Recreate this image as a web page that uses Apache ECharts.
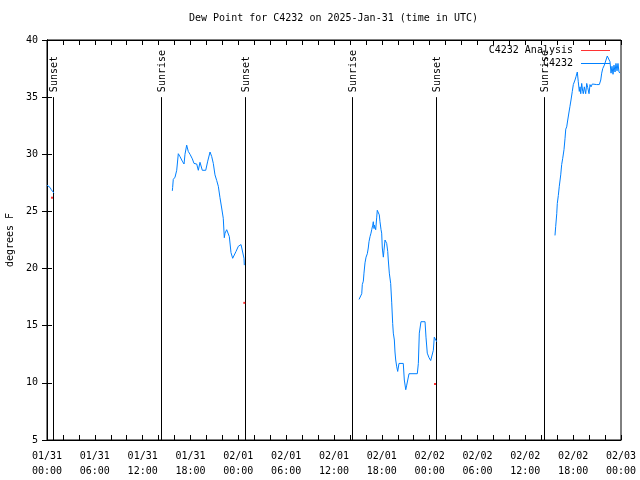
<!DOCTYPE html>
<html>
<head>
<meta charset="utf-8">
<script src="https://cdn.jsdelivr.net/npm/echarts@6/dist/echarts.min.js"></script>
<style>
html,body{margin:0;padding:0;background:#fff;}
#chart{width:640px;height:480px;}
</style>
</head>
<body>
<div id="chart"></div>
<script>
// ---- data (hours since 2025-01-31 00:00 UTC) ----
const titleText = 'Dew Point for C4232 on 2025-Jan-31 (time in UTC)';
const xTickLabels = ['01/31\n00:00','01/31\n06:00','01/31\n12:00','01/31\n18:00',
  '02/01\n00:00','02/01\n06:00','02/01\n12:00','02/01\n18:00',
  '02/02\n00:00','02/02\n06:00','02/02\n12:00','02/02\n18:00','02/03\n00:00'];
const yTicks = [5,10,15,20,25,30,35,40];

const eventNames = ['Sunset','Sunrise','Sunset','Sunrise','Sunset','Sunrise'];
const eventHours = [0.79, 14.26, 24.84, 38.26, 48.80, 62.38];

const obsHours = [
  0.00,0.21,0.38,0.54,0.71,0.88,
  1.50,
  15.72,15.76,15.84,16.06,16.27,16.47,16.68,16.97,17.19,17.31,17.52,17.72,17.94,18.23,18.44,18.78,18.98,
  19.19,19.48,19.91,20.16,20.45,20.66,20.86,21.07,21.29,21.49,21.70,21.91,22.11,22.24,22.33,22.54,22.74,
  22.87,23.08,23.29,23.50,23.71,24.00,24.34,24.55,24.71,24.75,
  30.00,
  39.14,39.39,39.48,39.55,39.68,39.76,39.89,40.02,40.18,40.30,40.39,40.52,40.64,40.73,40.86,40.93,41.02,
  41.06,41.14,41.23,41.36,41.43,41.56,41.68,41.77,41.90,41.98,42.06,42.19,42.27,42.40,42.52,42.61,42.74,
  42.81,42.94,43.11,43.24,43.36,43.44,43.57,43.65,43.74,43.87,43.99,44.15,44.69,44.82,45.00,45.12,45.25,
  45.41,46.45,46.58,46.70,46.91,47.42,47.54,47.70,47.92,48.13,48.26,48.38,48.46,48.58,48.71,48.88,
  55.00,
  63.72,63.81,63.94,64.01,64.14,64.26,64.44,64.56,64.69,64.85,64.98,65.07,65.19,65.32,65.48,65.60,65.73,
  65.89,66.02,66.23,66.36,66.52,66.64,66.77,66.86,66.95,67.07,67.20,67.27,67.40,67.57,67.70,67.82,67.99,
  68.11,68.24,68.40,68.65,68.95,69.28,69.46,69.58,69.71,69.91,70.12,70.28,70.50,70.62,70.75,70.87,71.00,
  71.12,71.25,71.37,71.50,71.62,71.75,71.87
];
const obsDewF = [
  27.3,27.3,27.1,26.9,26.75,26.6,
  null,
  26.8,27.1,27.8,28.0,28.6,30.05,29.8,29.4,29.15,30.0,30.8,30.25,30.0,29.6,29.2,29.15,28.6,
  29.3,28.6,28.6,29.4,30.2,29.8,29.2,28.2,27.7,27.2,26.2,25.3,24.4,22.7,23.1,23.4,23.4,
  22.8,21.4,20.9,20.9,21.5,21.95,22.1,22.1,20.9,20.3,
  null,
  17.3,17.3,17.8,18.6,18.9,19.6,20.5,21.0,21.3,21.8,22.35,22.8,23.1,23.4,23.8,24.1,23.5,
  23.8,23.7,23.4,24.5,25.1,24.95,24.7,24.1,23.4,23.1,21.8,21.0,21.6,22.5,22.35,22.2,21.5,
  20.75,19.6,18.7,17.0,15.2,14.35,13.75,12.7,12.0,11.4,11.0,11.7,11.7,10.25,9.4,9.8,10.25,
  10.8,10.8,11.7,14.35,15.35,15.35,14.0,12.6,12.2,11.95,11.85,12.1,12.85,14.0,13.9,13.6,
  null,
  22.9,23.7,24.8,25.7,26.4,27.2,28.2,29.1,29.65,30.4,31.4,32.2,32.4,33.0,33.7,34.2,34.75,
  35.5,36.1,36.5,36.8,37.2,36.35,35.5,35.9,35.3,36.2,35.5,35.3,35.9,35.3,36.2,35.85,35.3,
  36.1,35.9,36.15,36.0,36.1,36.1,36.5,37.1,37.5,37.8,37.95,38.6,38.6,38.1,37.1,37.7,37.0,
  37.8,37.2,37.95,37.3,37.95,37.2,37.1
];
const analysisHours = [0.63, 24.75, 48.67];
const analysisDewF = [26.2, 17.0, 9.9];

// ---- chart ----
const FONT = '"DejaVu Sans Mono", "Liberation Mono", monospace';
const chart = echarts.init(document.getElementById('chart'), null, {renderer: 'canvas'});

const obsData = obsHours.map((h, i) => [h, obsDewF[i] === null ? '-' : obsDewF[i]]);
const anaData = analysisHours.map((h, i) => [h, analysisDewF[i]]);
const evData = eventHours.map((h, i) => [h, 5, i]);

const xCommon = {
  type: 'value', min: 0, max: 72, interval: 6,
  axisLine: {show: true, lineStyle: {color: '#000', width: 1}},
  axisTick: {show: true, inside: true, length: 5, lineStyle: {color: '#000'}},
  minorTick: {show: true, splitNumber: 3, length: 5, lineStyle: {color: '#000'}},
  splitLine: {show: false}, minorSplitLine: {show: false}
};
const yCommon = {
  type: 'value', min: 5, max: 40, interval: 5,
  axisLine: {show: true, lineStyle: {color: '#000', width: 1}},
  axisTick: {show: true, inside: true, length: 5, lineStyle: {color: '#000'}},
  splitLine: {show: false}
};

chart.setOption({
  animation: false,
  backgroundColor: '#fff',
  title: {
    text: titleText, left: 189, top: 13, padding: 0,
    textStyle: {fontFamily: FONT, fontSize: 10, fontWeight: 'normal', color: '#000'}
  },
  legend: {
    orient: 'vertical', align: 'right', right: 30, top: 45, padding: 0,
    itemGap: 2, itemWidth: 29, itemHeight: 1,
    data: [{name: 'C4232 Analysis', icon: 'rect'}, {name: 'C4232', icon: 'rect'}],
    textStyle: {fontFamily: FONT, fontSize: 10, color: '#000', padding: [0, 3, 0, 0], lineHeight: 11},
    selectedMode: false
  },
  grid: {left: 47, right: 19, top: 40, bottom: 40, show: true, borderColor: '#000', borderWidth: 1,
         containLabel: false, outerBoundsMode: 'none'},
  xAxis: [
    Object.assign({}, xCommon, {
      position: 'bottom',
      axisLabel: {
        show: true, margin: 9, color: '#000', fontFamily: FONT, fontSize: 10, lineHeight: 15,
        formatter: v => xTickLabels[Math.round(v / 6)]
      }
    }),
    Object.assign({}, xCommon, {position: 'top', axisLabel: {show: false}})
  ],
  yAxis: [
    Object.assign({}, yCommon, {
      position: 'left',
      name: 'degrees F', nameLocation: 'middle', nameGap: 32, nameRotate: 90,
      nameTextStyle: {fontFamily: FONT, fontSize: 10, color: '#000'},
      axisLabel: {show: true, margin: 9, color: '#000', fontFamily: FONT, fontSize: 10,
        formatter: v => String(yTicks[yTicks.indexOf(v)])}
    }),
    Object.assign({}, yCommon, {position: 'right', axisLabel: {show: false}})
  ],
  series: [
    {
      name: 'events', type: 'custom', xAxisIndex: 0, yAxisIndex: 0, z: 3,
      data: evData, encode: {x: 0, y: 1}, silent: true,
      renderItem: function (params, api) {
        const h = api.value(0);
        const idx = api.value(2);
        const p0 = api.coord([h, 5]);
        const p1 = api.coord([h, 35]);
        const x = Math.round(p0[0]) + 0.5;
        return {
          type: 'group',
          children: [
            {type: 'line', shape: {x1: x, y1: p0[1], x2: x, y2: p1[1]},
             style: {stroke: '#000', lineWidth: 1}},
            {type: 'text', x: x + 1, y: p1[1] - 5, rotation: Math.PI / 2,
             style: {text: eventNames[idx], align: 'left', verticalAlign: 'middle',
                     font: '10px ' + FONT, fill: '#000'}}
          ]
        };
      }
    },
    {
      name: 'C4232 Analysis', type: 'scatter', xAxisIndex: 0, yAxisIndex: 0, z: 4,
      data: anaData, symbol: 'rect', symbolSize: [2, 2],
      itemStyle: {color: '#ff0000'}, silent: true
    },
    {
      name: 'C4232', type: 'line', xAxisIndex: 0, yAxisIndex: 0, z: 5,
      data: obsData, showSymbol: false, connectNulls: false,
      lineStyle: {color: '#0080ff', width: 1}, itemStyle: {color: '#0080ff'},
      silent: true
    }
  ]
});
</script>
</body>
</html>
